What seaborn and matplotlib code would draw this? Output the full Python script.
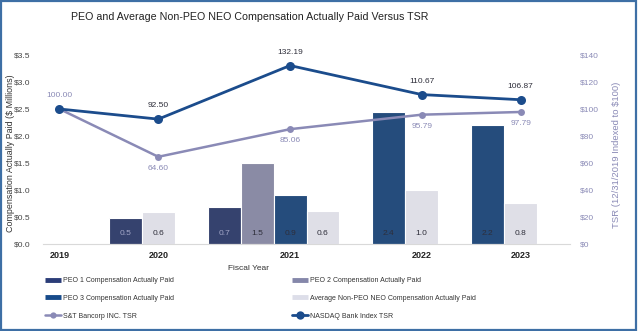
import matplotlib
matplotlib.use("Agg")
import matplotlib.pyplot as plt
import seaborn as sns
import pandas as pd
from matplotlib.patches import Rectangle
from matplotlib.lines import Line2D
from matplotlib.ticker import FuncFormatter

# ---------------- data ----------------
years = ["2019", "2020", "2021", "2022", "2023"]
peo1 = [None, 0.48, 0.69, None, None]
peo2 = [None, None, 1.50, None, None]
peo3 = [None, None, 0.91, 2.44, 2.20]
avg_neo = [None, 0.60, 0.61, 1.00, 0.76]
stt_tsr = [100.00, 64.60, 85.06, 95.79, 97.79]
nasdaq_tsr = [100.00, 92.50, 132.19, 110.67, 106.87]

series_names = ["PEO 1 Compensation Actually Paid", "PEO 2 Compensation Actually Paid",
                "PEO 3 Compensation Actually Paid", "Average Non-PEO NEO Compensation Actually Paid"]
series_vals = [peo1, peo2, peo3, avg_neo]
stt_name = "S&T Bancorp INC. TSR"
nas_name = "NASDAQ Bank Index TSR"

# ---------------- styles ----------------
c_peo1 = "#2B3D78"
c_peo2 = "#8587AA"
c_peo3 = "#174B8A"
c_avg = "#DDDEE9"
c_nas = "#1B4C8C"
c_stt = "#8A8AB6"
c_border = "#3E6FA5"
bar_colors = [c_peo1, c_peo2, c_peo3, c_avg]
label_colors = ["#A3A7C8", "#2E2E3A", "#2E2E3A", "#2E2E3A"]

sns.set_theme(style="white")
reg = ["Liberation Sans", "DejaVu Sans"]
plt.rcParams["font.family"] = reg

# ---------------- layout of bar slots (computed from data) ----------------
rows = []
tick_pos = []
cursor = 0.0
for yi, yr in enumerate(years):
    present = [(si, series_vals[si][yi]) for si in range(4) if series_vals[si][yi] is not None]
    n = len(present)
    tick_pos.append(cursor + n / 2 + 0.5)
    for k, (si, v) in enumerate(present):
        rows.append({"pos": cursor + k + 0.5, "value": v, "series": series_names[si], "si": si})
    cursor += max(n, 1) + 1
x_max = cursor
df = pd.DataFrame(rows)

fig = plt.figure(figsize=(6.38, 3.31), dpi=100)
ax = fig.add_axes([43 / 638, 1 - 244 / 331, (570 - 43) / 638, (244 - 55) / 331])

sns.barplot(data=df, x="pos", y="value", hue="series", hue_order=series_names,
            palette=dict(zip(series_names, bar_colors)), native_scale=True,
            dodge=False, width=1.0, edgecolor="white", linewidth=0.8,
            legend=False, ax=ax, errorbar=None)

for _, r in df.iterrows():
    ax.text(r["pos"], 0.2, f"{r['value']:.1f}", ha="center", va="center",
            fontsize=6, color=label_colors[int(r["si"])])

ax.set_xlim(0, x_max)
ax.set_ylim(0, 3.5)
ax.set_yticks([0, 0.5, 1.0, 1.5, 2.0, 2.5, 3.0, 3.5])
ax.yaxis.set_major_formatter(FuncFormatter(lambda v, p: f"${v:.1f}"))
ax.set_xticks(tick_pos)
ax.set_xticklabels(years, fontsize=6.5, fontweight="bold", color="#222222")
ax.tick_params(axis="y", labelsize=6, colors="#444444", length=0, pad=9)
ax.tick_params(axis="x", length=0, pad=5)
for s in ["top", "right", "left"]:
    ax.spines[s].set_visible(False)
ax.spines["bottom"].set_color("#D9D9D9")
ax.spines["bottom"].set_linewidth(0.8)
ax.set_ylabel("Compensation Actually Paid ($ Millions)", fontsize=6.4, color="#333333")
ax.yaxis.set_label_coords((15 - 43) / 527, 0.48)
ax.set_xlabel("Fiscal Year", fontsize=6, color="#333333")
ax.xaxis.set_label_coords((249 - 43) / 527, -0.11)
ax.grid(False)

# ---------------- lines on right axis ----------------
ax2 = ax.twinx()
line_df = pd.DataFrame({"pos": tick_pos * 2,
                        "tsr": stt_tsr + nasdaq_tsr,
                        "name": [stt_name] * 5 + [nas_name] * 5})
sns.lineplot(data=line_df[line_df["name"] == stt_name], x="pos", y="tsr", color=c_stt,
             linewidth=1.8, marker="o", markersize=5, markeredgewidth=0, ax=ax2, legend=False)
sns.lineplot(data=line_df[line_df["name"] == nas_name], x="pos", y="tsr", color=c_nas,
             linewidth=2.0, marker="o", markersize=6.5, markeredgewidth=0, ax=ax2, legend=False)
ax2.set_xlim(0, x_max)
ax2.set_ylim(0, 140)
ax2.set_yticks(range(0, 141, 20))
ax2.yaxis.set_major_formatter(FuncFormatter(lambda v, p: f"${v:.0f}"))
ax2.tick_params(axis="y", labelsize=6, colors=c_stt, length=0, pad=7)
for s in ["top", "right", "left", "bottom"]:
    ax2.spines[s].set_visible(False)
ax2.set_ylabel("TSR (12/31/2019 Indexed to $100)", fontsize=6.8, color=c_stt)
ax2.yaxis.set_label_coords(1.08, 0.47)
ax2.set_xlabel("")
ax2.grid(False)

for i, (xp, v) in enumerate(zip(tick_pos, nasdaq_tsr)):
    if i == 0:
        continue
    ax2.annotate(f"{v:.2f}", (xp, v), xytext=(0, 9.5), textcoords="offset points",
                 ha="center", va="center", fontsize=6, color="#2E2E3A")
for i, (xp, v) in enumerate(zip(tick_pos, stt_tsr)):
    off = 9.5 if i == 0 else -8.5
    ax2.annotate(f"{v:.2f}", (xp, v), xytext=(0, off), textcoords="offset points",
                 ha="center", va="center", fontsize=6, color=c_stt)

# ---------------- title ----------------
fig.text(250 / 638, 1 - 17 / 331, "PEO and Average Non-PEO NEO Compensation Actually Paid Versus TSR",
         ha="center", va="center", fontsize=7.7, color="#222222")

# ---------------- legends ----------------
def bar_handle(c):
    return Line2D([0], [0], color=c, linewidth=3.5, solid_capstyle="butt")

h_left = [bar_handle(c_peo1), bar_handle(c_peo3),
          Line2D([0], [0], color=c_stt, linewidth=1.8, marker="o", markersize=4.5, markeredgewidth=0)]
l_left = [series_names[0], series_names[2], stt_name]
h_right = [bar_handle(c_peo2), bar_handle(c_avg),
           Line2D([0], [0], color=c_nas, linewidth=2.0, marker="o", markersize=6, markeredgewidth=0)]
l_right = [series_names[1], series_names[3], nas_name]

for hs, ls, xl in [(h_left, l_left, 45), (h_right, l_right, 292)]:
    leg = fig.legend(hs, ls, loc="upper left", bbox_to_anchor=(xl / 638, 1 - 277 / 331),
                     frameon=False, fontsize=5, handlelength=2.3, handletextpad=0.25,
                     labelspacing=1.55, borderpad=0, borderaxespad=0)
    for t in leg.get_texts():
        t.set_color("#333333")

fig.patches.append(Rectangle((0.0015, 0.003), 0.996, 0.994, transform=fig.transFigure,
                             fill=False, edgecolor=c_border, linewidth=1.6))

fig.savefig("out.png", dpi=100)
